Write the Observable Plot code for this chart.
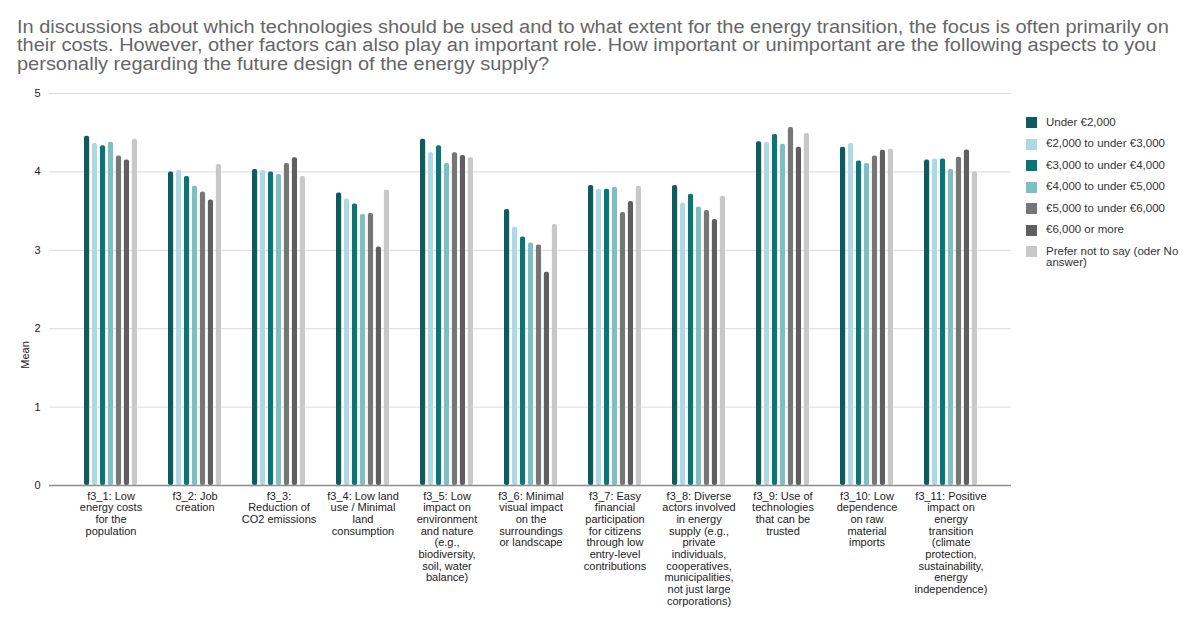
<!DOCTYPE html>
<html><head><meta charset="utf-8">
<script src="https://cdn.jsdelivr.net/npm/d3@7"></script>
<script src="https://cdn.jsdelivr.net/npm/@observablehq/plot@0.6"></script>
<style>
body{margin:0;background:#fff;font-family:"Liberation Sans",Arial,sans-serif;}
#wrap{position:relative;width:1200px;height:628px;overflow:hidden;background:#fff}
#title{position:absolute;left:17px;top:18px;font-size:18px;line-height:18.3px;color:#666;white-space:nowrap;transform:scaleX(1.11);transform-origin:0 0}
#chart{position:absolute;left:0;top:0}
#legend{position:absolute;left:1026px;top:117px;font-size:11.5px;color:#333}
.item{position:absolute;left:0;white-space:nowrap}
.sw{position:absolute;left:0;top:0;width:11px;height:11px}
.lab{position:absolute;left:20px;top:-0.5px;line-height:11.7px}
#ylab{position:absolute;left:25px;top:355px;transform:translate(-50%,-50%) rotate(-90deg);font-size:11px;color:#222}
</style></head>
<body>
<div id="wrap">
  <div id="chart"></div>
  <div id="title">In discussions about which technologies should be used and to what extent for the energy transition, the focus is often primarily on<br>their costs. However, other factors can also play an important role. How important or unimportant are the following aspects to you<br>personally regarding the future design of the energy supply?</div>
  <div id="ylab">Mean</div>
  <div id="legend"></div>
</div>
<script>
const categories = ["f3_1","f3_2","f3_3","f3_4","f3_5","f3_6","f3_7","f3_8","f3_9","f3_10","f3_11"];
const categoryLabels = [
  "f3_1: Low\nenergy costs\nfor the\npopulation",
  "f3_2: Job\ncreation",
  "f3_3:\nReduction of\nCO2 emissions",
  "f3_4: Low land\nuse / Minimal\nland\nconsumption",
  "f3_5: Low\nimpact on\nenvironment\nand nature\n(e.g.,\nbiodiversity,\nsoil, water\nbalance)",
  "f3_6: Minimal\nvisual impact\non the\nsurroundings\nor landscape",
  "f3_7: Easy\nfinancial\nparticipation\nfor citizens\nthrough low\nentry-level\ncontributions",
  "f3_8: Diverse\nactors involved\nin energy\nsupply (e.g.,\nprivate\nindividuals,\ncooperatives,\nmunicipalities,\nnot just large\ncorporations)",
  "f3_9: Use of\ntechnologies\nthat can be\ntrusted",
  "f3_10: Low\ndependence\non raw\nmaterial\nimports",
  "f3_11: Positive\nimpact on\nenergy\ntransition\n(climate\nprotection,\nsustainability,\nenergy\nindependence)"
];
const series = ["Under €2,000","€2,000 to under €3,000","€3,000 to under €4,000","€4,000 to under €5,000","€5,000 to under €6,000","€6,000 or more","Prefer not to say (oder No answer)"];
const seriesLegendLabels = ["Under €2,000","€2,000 to under €3,000","€3,000 to under €4,000","€4,000 to under €5,000","€5,000 to under €6,000","€6,000 or more","Prefer not to say (oder No<br>answer)"];
const colors = ["#0e5b5d","#add8e6","#0b7474","#80bfbf","#767676","#5f5f5f","#c8c8c8"];

const under2k  = [4.456, 4.000, 4.030, 3.732, 4.418, 3.520, 3.826, 3.826, 4.383, 4.315, 4.153];
const from2to3 = [4.363, 4.017, 4.017, 3.655, 4.243, 3.294, 3.779, 3.600, 4.375, 4.363, 4.166];
const from3to4 = [4.332, 3.940, 4.000, 3.591, 4.332, 3.170, 3.779, 3.715, 4.478, 4.140, 4.166];
const from4to5 = [4.379, 3.817, 3.966, 3.456, 4.107, 3.093, 3.805, 3.553, 4.354, 4.107, 4.030];
const from5to6 = [4.204, 3.745, 4.107, 3.468, 4.243, 3.068, 3.481, 3.507, 4.567, 4.204, 4.188];
const over6k   = [4.153, 3.642, 4.179, 3.042, 4.209, 2.720, 3.622, 3.392, 4.315, 4.277, 4.280];
const preferNot= [4.418, 4.094, 3.940, 3.766, 4.179, 3.328, 3.817, 3.690, 4.490, 4.290, 4.000];
const yTicks = [0,1,2,3,4,5];

const seriesValues = [under2k, from2to3, from3to4, from4to5, from5to6, over6k, preferNot];
const rows = [];
series.forEach((s, i) => categories.forEach((c, j) => rows.push({category: c, series: s, value: seriesValues[i][j]})));
const labelMap = Object.fromEntries(categories.map((c, i) => [c, categoryLabels[i]]));

// layout
const W = 1200, H = 628, mL = 49, mR = 189;
const padIn = 0.375, padOut = 0.357;
const step = (W - mL - mR) / (categories.length - padIn + 2 * padOut);
const bw = step * (1 - padIn);
const innerPad = 0.35;
const pitch = bw / (series.length - innerPad);
const barW = pitch * (1 - innerPad);

const plot = Plot.plot({
  width: W, height: H,
  marginTop: 93, marginBottom: 143, marginLeft: mL, marginRight: mR,
  style: {fontFamily: '"Liberation Sans", Arial, sans-serif', fontSize: "11px", color: "#222", background: "transparent"},
  x: {domain: categories, paddingInner: padIn, paddingOuter: padOut, label: null, axis: null},
  y: {domain: [0, 5], label: null, axis: null},
  color: {domain: series, range: colors},
  marks: [
    Plot.ruleY(yTicks.filter(d => d > 0), {stroke: "#dadada", strokeWidth: 1}),
    ...series.map((s, i) => Plot.barY(rows.filter(r => r.series === s), {
      x: "category", y: "value", fill: "series",
      insetLeft: i * pitch, insetRight: bw - i * pitch - barW, rx: 2
    })),
    Plot.ruleY([0], {stroke: "#8c8c8c", strokeWidth: 1.3}),
    Plot.axisY({ticks: yTicks, tickSize: 0, tickPadding: 9, label: null, fontSize: 11, tickFormat: d => String(d)}),
    Plot.axisX({tickSize: 0, tickPadding: 6, tickFormat: d => labelMap[d], label: null, fontSize: 11, lineHeight: 1.06})
  ]
});
document.getElementById("chart").appendChild(plot);

const legend = document.getElementById("legend");
series.forEach((s, i) => {
  const it = document.createElement("div");
  it.className = "item";
  it.style.top = (i * 21.5) + "px";
  it.innerHTML = `<div class="sw" style="background:${colors[i]}"></div><div class="lab">${seriesLegendLabels[i]}</div>`;
  legend.appendChild(it);
});
</script>
</body></html>
